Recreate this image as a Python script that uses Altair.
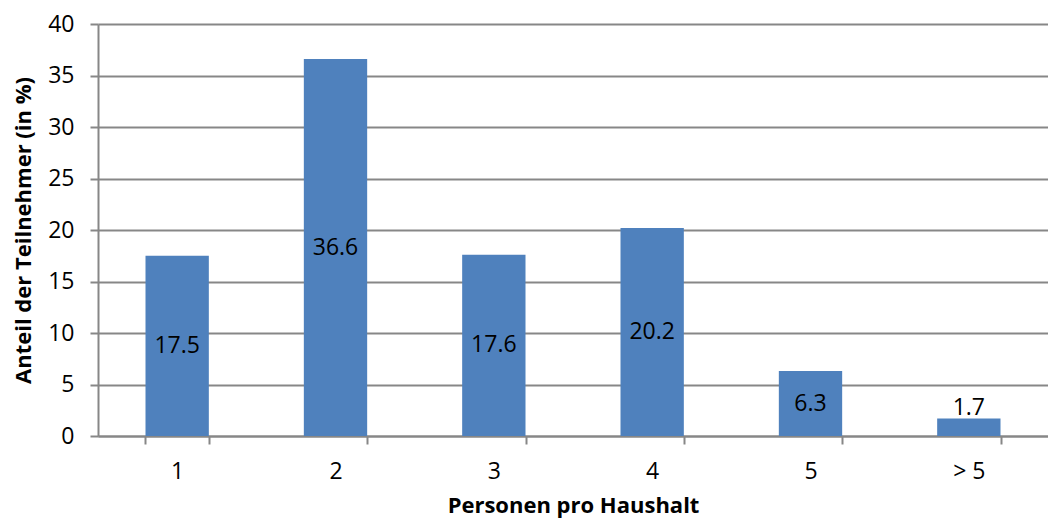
import altair as alt
import pandas as pd

categories = ["1", "2", "3", "4", "5", "> 5"]
values = [17.5, 36.6, 17.6, 20.2, 6.3, 1.7]

df = pd.DataFrame({"Personen": categories, "Anteil": values})

FONT = "Open Sans"
GRID = "#878787"

base = alt.Chart(df)

x = alt.X("Personen:N", sort=categories,
          title="Personen pro Haushalt",
          scale=alt.Scale(paddingInner=0.6, paddingOuter=0.3),
          axis=alt.Axis(labelAngle=0, tickBand="extent", tickSize=8,
                        tickColor=GRID, tickWidth=2, domainColor=GRID, domainWidth=2,
                        labelFontSize=23, labelFont=FONT, labelColor="black", labelPadding=16,
                        titleFontSize=22, titleFont=FONT, titleFontWeight="bold",
                        titleColor="black", titlePadding=12, grid=False))

bars = base.mark_bar(color="#4F81BD").encode(
    x=x,
    y=alt.Y("Anteil:Q", title="Anteil der Teilnehmer (in %)",
            scale=alt.Scale(domain=[0, 40]),
            axis=alt.Axis(values=[0, 5, 10, 15, 20, 25, 30, 35, 40], tickSize=8,
                          tickColor=GRID, tickWidth=2, domainColor=GRID, domainWidth=2,
                          gridColor=GRID, gridWidth=2, gridOpacity=1,
                          labelFontSize=23, labelFont=FONT, labelColor="black", labelPadding=16,
                          titleFontSize=22, titleFont=FONT, titleFontWeight="bold",
                          titleColor="black", titlePadding=12)),
)

labels = base.transform_calculate(
    ypos="max(datum.Anteil / 2, 2.7)"
).mark_text(font=FONT, fontSize=23, color="black", baseline="middle").encode(
    x=alt.X("Personen:N", sort=categories),
    y=alt.Y("ypos:Q"),
    text=alt.Text("Anteil:Q", format=".1f"),
)

chart = (bars + labels).properties(
    width=950, height=412,
    autosize=alt.AutoSizeParams(type="none"),
    padding={"left": 90, "top": 16, "right": 0, "bottom": 83},
).configure_view(stroke=None)

chart.save("out.html", embed_options={"renderer": "svg", "actions": False})
